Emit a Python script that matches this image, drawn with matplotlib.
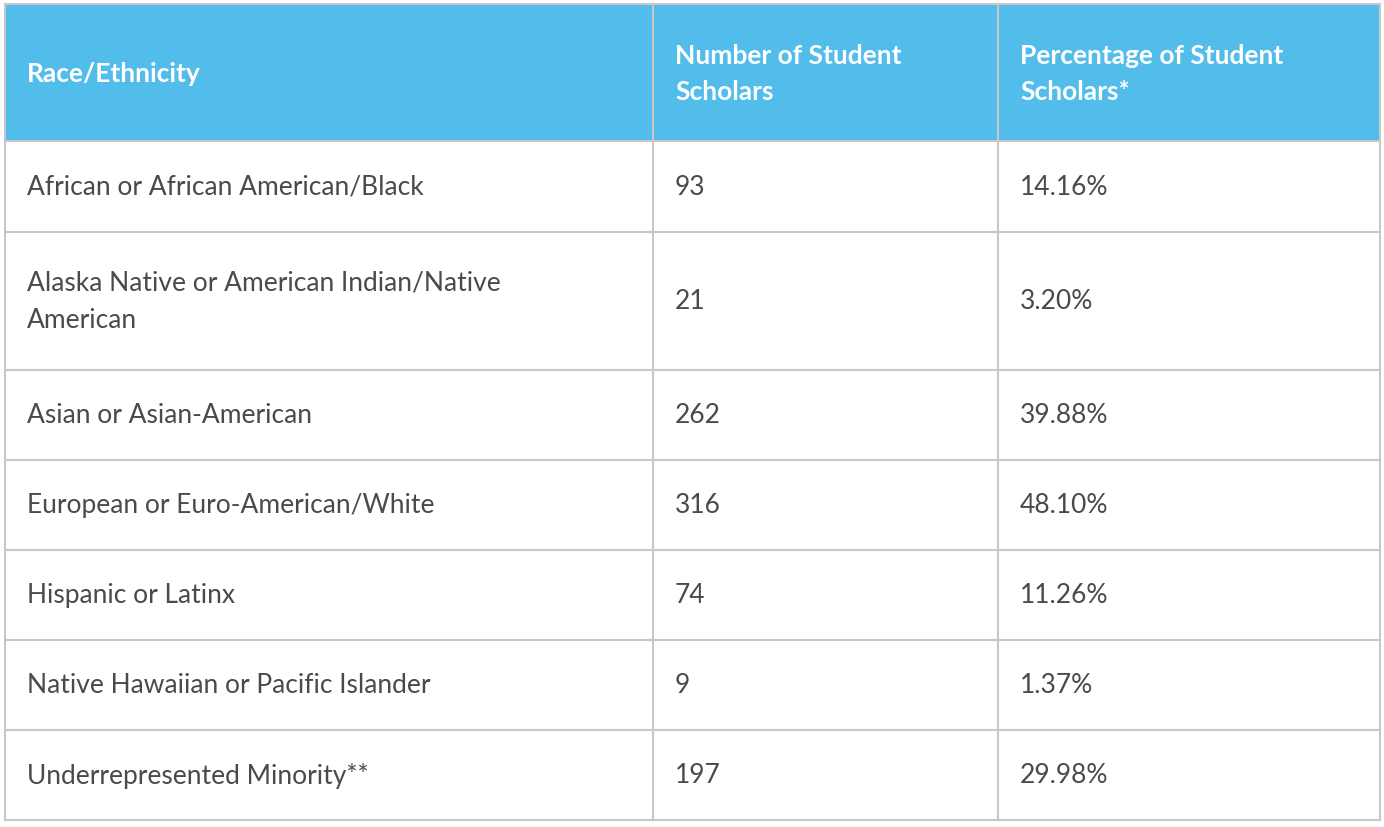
import matplotlib.pyplot as plt
from matplotlib.patches import Rectangle

headers = ["Race/Ethnicity", "Number of Student\nScholars", "Percentage of Student\nScholars*"]
groups = [
    "African or African American/Black",
    "Alaska Native or American Indian/Native\nAmerican",
    "Asian or Asian-American",
    "European or Euro-American/White",
    "Hispanic or Latinx",
    "Native Hawaiian or Pacific Islander",
    "Underrepresented Minority**",
]
counts = [93, 21, 262, 316, 74, 9, 197]
percents = [14.16, 3.20, 39.88, 48.10, 11.26, 1.37, 29.98]

# layout in pixels
col_x = [5, 653, 998, 1380]
row_y = [5, 142, 233, 371, 461, 551, 641, 731, 821]
pad = 22
header_blue = "#52BCEB"
grid = "#c8c8c8"
txt = "#4a4a4a"

plt.rcParams['font.family'] = ['Lato', 'DejaVu Sans']
fig = plt.figure(figsize=(13.84, 8.28), dpi=100)
ax = fig.add_axes([0, 0, 1, 1])
ax.set_xlim(0, 1384)
ax.set_ylim(828, 0)
ax.axis("off")

ax.add_patch(Rectangle((col_x[0], row_y[0]), col_x[-1] - col_x[0], row_y[1] - row_y[0],
                       facecolor=header_blue, edgecolor="none"))
for j, h in enumerate(headers):
    ax.text(col_x[j] + pad, (row_y[0] + row_y[1]) / 2, h, color="white", fontsize=19,
            fontweight="bold", va="center", ha="left", linespacing=1.6)

for i, (g, c, p) in enumerate(zip(groups, counts, percents)):
    yc = (row_y[i + 1] + row_y[i + 2]) / 2
    for j, s in enumerate([g, str(c), f"{p:.2f}%"]):
        ax.text(col_x[j] + pad, yc, s, color=txt, fontsize=19, va="center", ha="left",
                linespacing=1.6)

for y in row_y:
    ax.plot([col_x[0], col_x[-1]], [y, y], color=grid, lw=1.5)
for x in col_x:
    ax.plot([x, x], [row_y[0], row_y[-1]], color=grid, lw=1.5)

fig.savefig("out.png", dpi=100, facecolor="white")
